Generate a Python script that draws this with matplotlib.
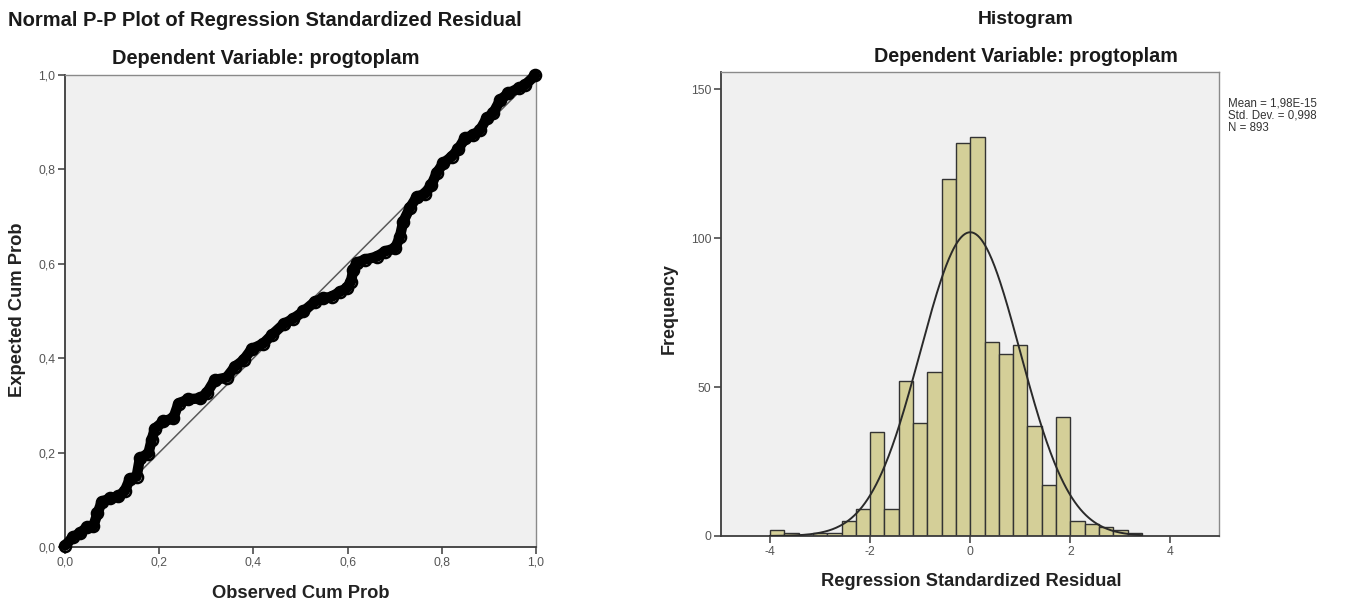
import numpy as np
import matplotlib
matplotlib.use("Agg")
import matplotlib.pyplot as plt

# ---------------- data ----------------
# Normal P-P plot
observed_cum_prob = [0.000, 0.018, 0.032, 0.046, 0.060, 0.069, 0.078, 0.096, 0.113, 0.127,
                     0.138, 0.152, 0.159, 0.177, 0.184, 0.191, 0.209, 0.230, 0.241, 0.262,
                     0.287, 0.301, 0.318, 0.343, 0.361, 0.379, 0.396, 0.421, 0.439, 0.464,
                     0.485, 0.506, 0.531, 0.548, 0.566, 0.584, 0.598, 0.607, 0.612, 0.619,
                     0.637, 0.662, 0.679, 0.701, 0.711, 0.718, 0.732, 0.747, 0.764, 0.778,
                     0.789, 0.803, 0.821, 0.835, 0.849, 0.867, 0.881, 0.895, 0.909, 0.924,
                     0.941, 0.963, 0.977, 0.998]
expected_cum_prob = [0.003, 0.022, 0.029, 0.042, 0.044, 0.071, 0.096, 0.103, 0.107, 0.119,
                     0.145, 0.149, 0.188, 0.198, 0.227, 0.251, 0.266, 0.273, 0.304, 0.313,
                     0.315, 0.326, 0.354, 0.359, 0.382, 0.396, 0.419, 0.431, 0.449, 0.472,
                     0.484, 0.499, 0.520, 0.527, 0.530, 0.541, 0.548, 0.562, 0.587, 0.602,
                     0.609, 0.615, 0.626, 0.633, 0.657, 0.689, 0.718, 0.742, 0.748, 0.767,
                     0.792, 0.813, 0.827, 0.843, 0.866, 0.873, 0.883, 0.908, 0.919, 0.947,
                     0.961, 0.972, 0.979, 0.999]
pp_ticks = [0.0, 0.2, 0.4, 0.6, 0.8, 1.0]
pp_tick_labels = ["0,0", "0,2", "0,4", "0,6", "0,8", "1,0"]

# Histogram of regression standardized residuals
bin_start = -4.0
bin_width = 2.0 / 7.0
frequency = [2, 1, 0, 1, 1, 5, 9, 35, 9, 52, 38, 55, 120, 132, 134,
             65, 61, 64, 37, 17, 40, 5, 4, 3, 2, 1]
resid_mean = 1.98e-15
resid_sd = 0.998
n_obs = 893
hist_xticks = [-4, -2, 0, 2, 4]
hist_yticks = [0, 50, 100, 150]
legend_lines = ["Mean = 1,98E-15", "Std. Dev. = 0,998", "N = 893"]

titles_left = ("Normal P-P Plot of Regression Standardized Residual",
               "Dependent Variable: progtoplam")
titles_right = ("Histogram", "Dependent Variable: progtoplam")

# ---------------- figure ----------------
W, H = 1346, 604
plt.rcParams['font.family'] = ['Liberation Sans', 'DejaVu Sans']
fig = plt.figure(figsize=(W / 100, H / 100), dpi=100, facecolor='white')
renderer = fig.canvas.get_renderer()


def px_rect(x0, y0, x1, y1):
    return [x0 / W, 1 - y1 / H, (x1 - x0) / W, (y1 - y0) / H]


def ftext(x, y, s, target_w=None, size=10, **kw):
    t = fig.text(x / W, 1 - y / H, s, fontsize=size, **kw)
    if target_w is not None:
        bb = t.get_window_extent(renderer)
        w = bb.height if kw.get('rotation', 0) == 90 else bb.width
        t.set_fontsize(size * target_w / w)
    return t


BG = '#F0F0F0'
DARK = '#3c3c3c'
LIGHT = '#8a8a8a'


def style_axes(ax):
    ax.set_facecolor(BG)
    for side in ('left', 'bottom'):
        ax.spines[side].set_color(DARK)
        ax.spines[side].set_linewidth(1.3)
    for side in ('top', 'right'):
        ax.spines[side].set_color(LIGHT)
        ax.spines[side].set_linewidth(1.0)
    ax.tick_params(direction='out', length=5, width=1.1, color=DARK,
                   labelsize=8.8, labelcolor='#555555', pad=2)


# ---- P-P plot ----
ax1 = fig.add_axes(px_rect(65, 75, 536, 547))
style_axes(ax1)
ax1.set_xlim(0, 1)
ax1.set_ylim(0, 1)
ax1.plot([0, 1], [0, 1], color='#5a5a5a', lw=1.1, zorder=2)
ax1.plot(observed_cum_prob, expected_cum_prob, '-', color='black', lw=7.5,
         solid_capstyle='round', solid_joinstyle='round', zorder=3, clip_on=False)
ax1.plot(observed_cum_prob, expected_cum_prob, 'o', mfc='none', mec='black',
         ms=8, mew=1.8, zorder=4, clip_on=False)
ax1.set_xticks(pp_ticks)
ax1.set_xticklabels(pp_tick_labels)
ax1.set_yticks(pp_ticks)
ax1.set_yticklabels(pp_tick_labels)

# ---- Histogram ----
ax2 = fig.add_axes(px_rect(721, 72, 1219, 536))
style_axes(ax2)
edges = bin_start + bin_width * np.arange(len(frequency) + 1)
ax2.bar(edges[:-1], frequency, width=bin_width, align='edge', color='#D4CF98',
        edgecolor='#333333', linewidth=1.0, zorder=2)
xc = np.linspace(edges[0], edges[-1], 400)
yc = n_obs * bin_width * np.exp(-0.5 * ((xc - resid_mean) / resid_sd) ** 2) / (resid_sd * np.sqrt(2 * np.pi))
ax2.plot(xc, yc, color='#2a2a2a', lw=1.4, zorder=3)
ax2.set_xlim(-4.98, 4.97)
ax2.set_ylim(0, 155.8)
ax2.set_xticks(hist_xticks)
ax2.set_xticklabels([str(v) for v in hist_xticks])
ax2.set_yticks(hist_yticks)

# ---- texts ----
ftext(8, 20, titles_left[0], target_w=514, ha='left', va='center',
      weight='bold', color='#1a1a1a')
ftext(266, 58, titles_left[1], target_w=309, ha='center', va='center',
      weight='bold', color='#1a1a1a')
ftext(1026, 20, titles_right[0], target_w=96, ha='center', va='center',
      weight='bold', color='#1a1a1a')
ftext(1026, 57, titles_right[1], target_w=305, ha='center', va='center',
      weight='bold', color='#1a1a1a')

ftext(301, 593, "Observed Cum Prob", target_w=178, ha='center', va='center',
      weight='bold', color='#222222')
ftext(18, 310, "Expected Cum Prob", target_w=175, ha='center', va='center',
      rotation=90, weight='bold', color='#222222')
ftext(971, 582, "Regression Standardized Residual", target_w=302, ha='center',
      va='center', weight='bold', color='#222222')
ftext(669, 308, "Frequency", target_w=91, ha='center', va='center',
      rotation=90, weight='bold', color='#222222')

for i, line in enumerate(legend_lines):
    ftext(1228, 103 + 12.5 * i, line, size=8.3, ha='left', va='center', color='#333333')

fig.savefig('out.png', dpi=100, facecolor='white')
